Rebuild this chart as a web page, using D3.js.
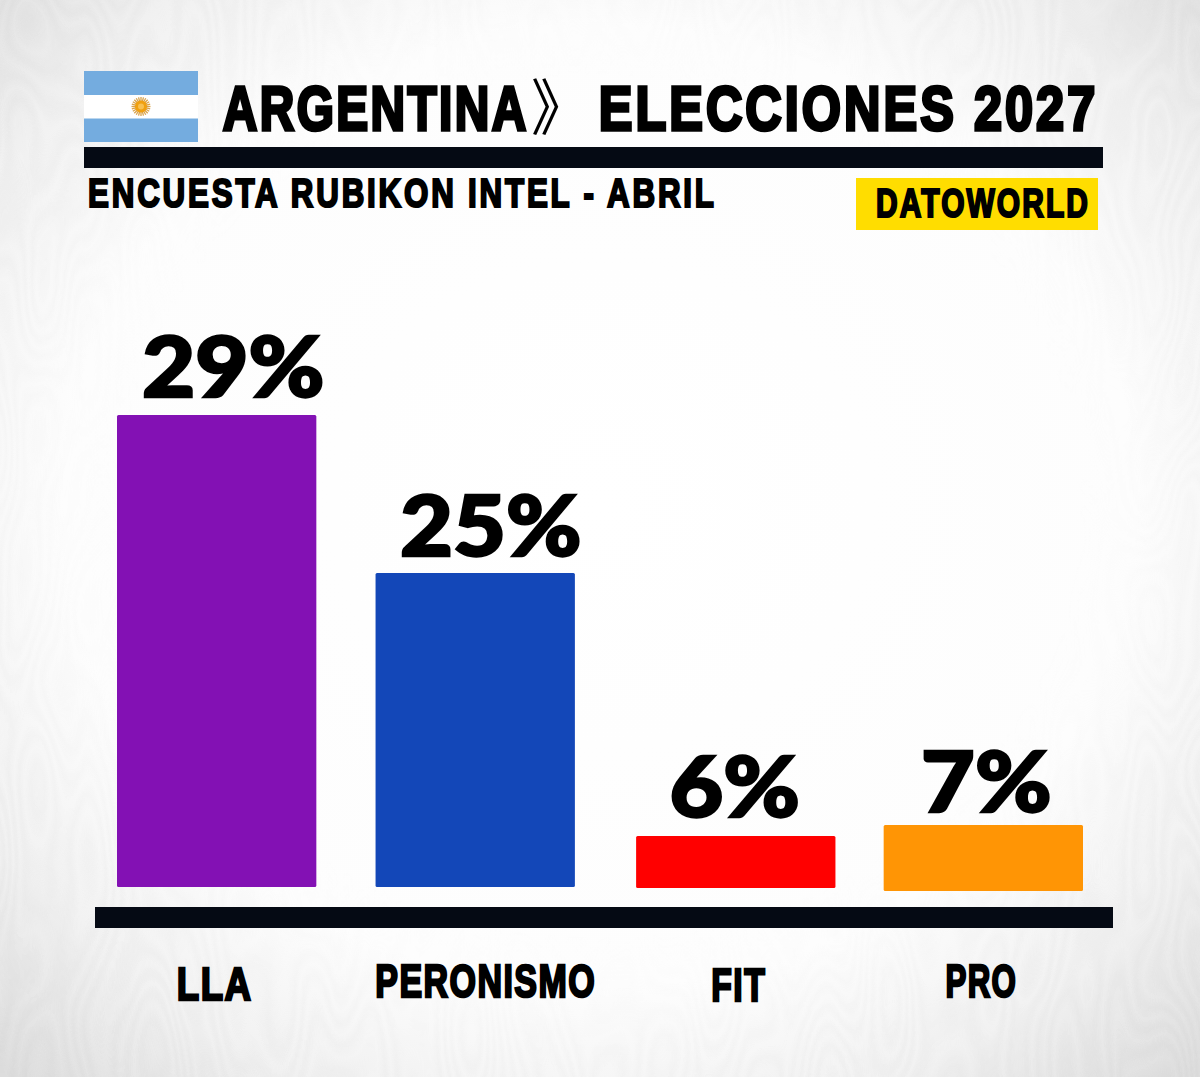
<!DOCTYPE html>
<html><head><meta charset="utf-8">
<script src="https://d3js.org/d3.v7.min.js"></script>
<style>html,body{margin:0;padding:0;background:#fff}svg{display:block}</style>
</head><body><div id="c"></div>
<script>
// DATA
const categories = ["LLA", "PERONISMO", "FIT", "PRO"];
// Percentages printed above the bars
const printedValues = [29, 25, 6, 7];
// Bar lengths as drawn in the source, in percent-equivalent units (29 = LLA's bar).
// The source's bars are not proportional to their printed percentages.
const drawnValues = [29, 19.3, 3.2, 4.05];
const barColors = ["#8311B4", "#1347B8", "#FF0000", "#FF9505"];
const titleLeft = "ARGENTINA";
const titleMark = "》";
const titleRight = "ELECCIONES 2027";
const subtitle = "ENCUESTA RUBIKON INTEL - ABRIL";
const brand = "DATOWORLD";

// LAYOUT (source's hand-placed irregularities)
const W = 1200, H = 1077;
const barNudge = [0, 3, 8, 0];
const barDrop = [-1, -1, 0, 3];
const valueDx = [16.5, 15.5, -1, 3];
const valueGap = [17, 16, 18, 12];
const valueWidth = [185, 184, 133, 133];
const tickDx = [-2, 10.5, 3, -2];
const tickBase = [1001, 998, 1002, 998];
const tickWidth = [77, 222, 56, 73];
const DARK = "#050A14";
const BLOCK = "'Liberation Sans'";

const svg = d3.select("#c").append("svg").attr("width", W).attr("height", H).attr("viewBox", `0 0 ${W} ${H}`);
const defs = svg.append("defs");
const grad = defs.append("radialGradient").attr("id", "bg").attr("cx", "50%").attr("cy", "47%").attr("r", "72%");
[[0, "#ffffff"], [0.62, "#fdfdfd"], [0.82, "#f1f1f1"], [1, "#dedede"]].forEach(([o, c]) =>
  grad.append("stop").attr("offset", o).attr("stop-color", c));
svg.append("rect").attr("width", W).attr("height", H).attr("fill", "url(#bg)");

// faint wood-grain texture
const f = defs.append("filter").attr("id", "grain").attr("x", 0).attr("y", 0).attr("width", "100%").attr("height", "100%");
f.append("feTurbulence").attr("type", "fractalNoise").attr("baseFrequency", "0.012 0.004").attr("numOctaves", 2).attr("seed", 7);
f.append("feColorMatrix").attr("type", "matrix").attr("values", "0 0 0 0 0.55  0 0 0 0 0.55  0 0 0 0 0.55  1.4 0 0 0 -0.2");
f.append("feComponentTransfer").append("feFuncA").attr("type", "table")
  .attr("tableValues", "0 .16 0 .16 0 .16 0 .16 0 .16 0 .16 0 .16 0 .16 0 .16 0 .16 0");
const vign = defs.append("radialGradient").attr("id", "vg").attr("cx", "50%").attr("cy", "47%").attr("r", "72%");
[[0, "#000"], [0.55, "#000"], [1, "#fff"]].forEach(([o, c]) => vign.append("stop").attr("offset", o).attr("stop-color", c));
defs.append("mask").attr("id", "vm").append("rect").attr("width", W).attr("height", H).attr("fill", "url(#vg)");
svg.append("g").attr("mask", "url(#vm)").append("rect").attr("width", W).attr("height", H).attr("filter", "url(#grain)");

// Style a text node in the block face and squeeze it to a target width.
function blockStyle(sel, size, sw, spacing) {
  return sel.attr("font-family", BLOCK).attr("font-weight", 700).attr("font-size", size)
    .attr("letter-spacing", spacing).attr("fill", "#000").attr("stroke", "#000")
    .attr("stroke-width", sw).attr("stroke-linejoin", "miter");
}
function fitted(parent, str, x0, x1, top, base, sw, spacing) {
  const size = (base - top - sw) / 0.69;
  const ls = size * spacing;
  const t = blockStyle(parent.append("text").text(str), size, sw, ls);
  const sx = (x1 - x0 - sw) / (t.node().getComputedTextLength() - ls);
  return t.attr("transform", `translate(${x0 + sw / 2},${base - sw / 2}) scale(${sx},1)`);
}

// flag
const flag = svg.append("g");
flag.append("rect").attr("x", 84).attr("y", 71).attr("width", 114).attr("height", 71).attr("fill", "#74ACDF");
flag.append("rect").attr("x", 84).attr("y", 95).attr("width", 114).attr("height", 23.5).attr("fill", "#fff");
d3.range(24).forEach(i => {
  const a = i / 24 * 2 * Math.PI;
  flag.append("line").attr("x1", 141).attr("y1", 106.5)
    .attr("x2", 141 + 9.5 * Math.cos(a)).attr("y2", 106.5 + 9.5 * Math.sin(a))
    .attr("stroke", "#D9A24A").attr("stroke-width", 1.3);
});
flag.append("circle").attr("cx", 141).attr("cy", 106.5).attr("r", 6).attr("fill", "#F0A010");
flag.append("circle").attr("cx", 141).attr("cy", 106.5).attr("r", 3).attr("fill", "#F8C050");

// header
fitted(svg, titleLeft, 221, 528, 85, 132, 3.5, 0.05);
const mark = svg.append("text").text(titleMark)
  .attr("font-family", "'Noto Sans CJK JP'").attr("font-weight", 400).attr("font-size", 58).attr("fill", "#000");
mark.attr("transform", "translate(531,130) scale(1,1.05)");
fitted(svg, titleRight, 597, 1097, 85, 132, 3.5, 0.06);
svg.append("rect").attr("x", 84).attr("y", 147).attr("width", 1019).attr("height", 21).attr("fill", DARK);
fitted(svg, subtitle, 87, 715, 178, 208, 2.2, 0.09);
svg.append("rect").attr("x", 856).attr("y", 178).attr("width", 242).attr("height", 52).attr("fill", "#FFDD00");
fitted(svg, brand, 875, 1089, 188, 218, 2.2, 0.07);

// scales
const x = d3.scaleBand().domain(categories).range([117, 1083]).paddingInner(0.22);
const y = d3.scaleLinear().domain([0, 29]).range([888, 416]);
const barTop = i => y(drawnValues[i]) + barDrop[i];

// bars
svg.append("g").selectAll("rect").data(categories).join("rect")
  .attr("x", (d, i) => x(d) + barNudge[i])
  .attr("y", (d, i) => barTop(i))
  .attr("width", x.bandwidth())
  .attr("height", (d, i) => y(0) - y(drawnValues[i]))
  .attr("rx", 1.5)
  .attr("fill", (d, i) => barColors[i]);

// value labels
svg.append("g").selectAll("text").data(categories).join("text")
  .text((d, i) => printedValues[i] + "%")
  .attr("text-anchor", "middle")
  .attr("font-family", "Lato").attr("font-weight", 900).attr("font-size", 84)
  .attr("fill", "#000").attr("stroke", "#000").attr("stroke-width", 2.5)
  .attr("transform", function (d, i) {
    const sx = (valueWidth[i] - 2.5) / this.getComputedTextLength();
    const cx = x(d) + x.bandwidth() / 2 + barNudge[i] + valueDx[i];
    return `translate(${cx},${barTop(i) - valueGap[i] - 1}) scale(${sx},1)`;
  });

// baseline + category axis
svg.append("rect").attr("x", 95).attr("y", 907).attr("width", 1018).attr("height", 21).attr("fill", DARK);
const axis = svg.append("g").call(d3.axisBottom(x).tickSize(0));
axis.select(".domain").remove();
axis.selectAll(".tick text")
  .attr("x", 0).attr("y", 0).attr("dy", 0)
  .attr("text-anchor", "middle")
  .call(blockStyle, 47, 2.5, 2)
  .attr("transform", function (d, i) {
    const sx = (tickWidth[i] - 2.5) / (this.getComputedTextLength() - 2);
    return `translate(${barNudge[i] + tickDx[i]},${tickBase[i] - 1}) scale(${sx},1)`;
  });
</script></body></html>
